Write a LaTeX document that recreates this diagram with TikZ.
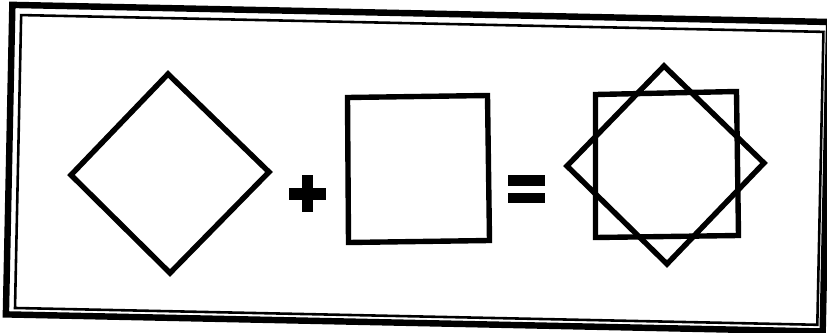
\documentclass[tikz,border=0pt]{standalone}
\usepackage{tikz}

\begin{document}
\begin{tikzpicture}[x=0.03cm,y=-0.03cm,
    outline/.style={line width=4.6pt,line join=miter},
    tilted/.style={rotate around={-1.2:(418,169)}}]

\useasboundingbox (0,0) rectangle (827,333);

% Frame
\draw[tilted,line width=5.5pt] (9,13.4) rectangle (826,323);
\draw[tilted,line width=2.2pt] (18,23.4) rectangle (820.5,316.4);

% Diamond
\draw[outline]
(168,74) --
(269,172) --
(170,273) --
(71,175) --
cycle;

% Plus
\fill (289,188) rectangle (326,200);
\fill (302,175) rectangle (313,212);

% Square
\draw[outline]
(347.5,97.5) --
(487.5,95.5) --
(489.5,240.5) --
(348.5,242.5) --
cycle;

% Equals
\fill (508,175) rectangle (545,186);
\fill (508,193) rectangle (545,203);

% Square and diamond together
\draw[outline]
(595.5,94.5) --
(736.5,91.5) --
(738.5,235.5) --
(595.5,237.5) --
cycle;
\draw[outline]
(664,66) --
(764,163) --
(667,264) --
(567,166) --
cycle;

\end{tikzpicture}
\end{document}
